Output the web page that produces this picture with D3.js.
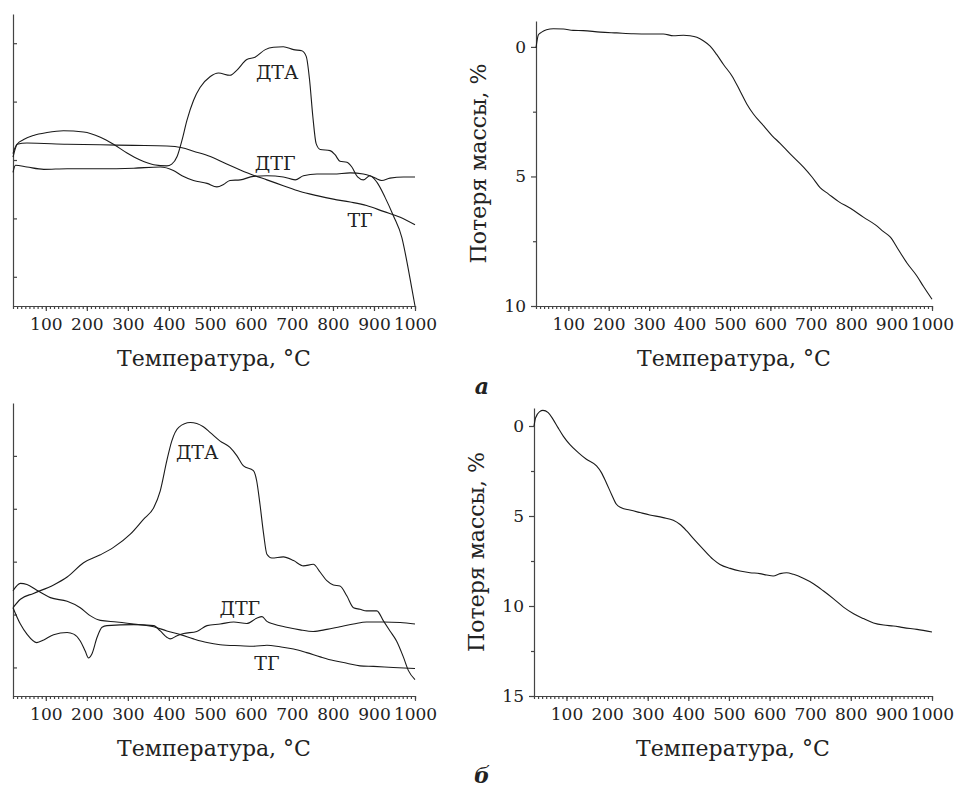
<!DOCTYPE html>
<html>
<head>
<meta charset="utf-8">
<script src="https://cdn.jsdelivr.net/npm/d3@7/dist/d3.min.js"></script>
<style>
body { margin: 0; background: #fff; }
text { font-family: "DejaVu Serif", serif; fill: #222; }
.crv { fill: none; stroke: #1a1a1a; stroke-width: 1.1; }
.axis path, .axis line { stroke: #444; stroke-width: 1.2; }
</style>
</head>
<body>
<svg id="fig" width="954" height="787"></svg>
<script>
// temperature ticks, deg C
var temp_major = [100, 200, 300, 400, 500, 600, 700, 800, 900, 1000]
var temp_minor = d3.range(20, 1001, 10)
var tg_ticks_a = [0, 5, 10]
var tg_ticks_b = [0, 5, 10, 15]

// (a) ДТА / ДТГ / ТГ, arbitrary units, [T, value]
var dta_a = [[20,2.05],[30,2.27],[46,2.35],[70,2.42],[103,2.47],[143,2.50],[192,2.48],[233,2.39],[265,2.27],[298,2.12],
  [330,2.00],[363,1.92],[395,1.90],[407,1.93],[420,2.06],[432,2.34],[444,2.68],[460,3.02],[476,3.24],[501,3.43],
  [521,3.49],[549,3.45],[566,3.54],[590,3.72],[610,3.76],[635,3.89],[655,3.93],[679,3.94],[704,3.89],[724,3.87],
  [735,3.77],[743,3.37],[751,2.74],[759,2.28],[769,2.18],[793,2.16],[805,2.09],[817,1.98],[834,1.96],[846,1.88],
  [860,1.71],[874,1.66],[890,1.73],[907,1.62],[927,1.36],[947,1.05],[968,0.67],[980,0.27],[992,-0.19],[1000,-0.5]]
var dtg_a = [[20,1.79],[26,1.91],[54,1.88],[95,1.84],[152,1.85],[233,1.85],[314,1.86],[379,1.88],[411,1.82],[432,1.73],
  [460,1.65],[493,1.60],[517,1.54],[533,1.58],[549,1.65],[574,1.66],[606,1.72],[639,1.73],[679,1.71],[708,1.66],
  [728,1.73],[761,1.76],[801,1.76],[842,1.78],[874,1.76],[890,1.73],[903,1.69],[919,1.65],[939,1.69],[972,1.71],[1000,1.71]]
var tg_a = [[20,2.11],[30,2.27],[54,2.29],[152,2.27],[233,2.26],[314,2.25],[395,2.24],[432,2.21],[460,2.15],[501,2.06],
  [541,1.93],[574,1.83],[606,1.74],[639,1.66],[679,1.56],[720,1.46],[761,1.39],[801,1.33],[842,1.28],[882,1.22],
  [923,1.12],[964,1.02],[1000,0.89]]
// (a) mass loss, %
var loss_a = [[20,0.04],[26,-0.47],[34,-0.57],[46,-0.66],[63,-0.70],[88,-0.69],[112,-0.64],[137,-0.63],[179,-0.57],[220,-0.54],
  [261,-0.51],[302,-0.50],[335,-0.50],[360,-0.43],[385,-0.45],[401,-0.43],[418,-0.37],[434,-0.24],[451,-0.03],[467,0.29],
  [484,0.68],[505,1.12],[525,1.70],[542,2.21],[558,2.59],[583,3.04],[604,3.42],[624,3.72],[649,4.13],[682,4.64],
  [703,5.02],[723,5.43],[744,5.68],[769,5.97],[798,6.23],[831,6.58],[860,6.87],[880,7.13],[897,7.34],[917,7.83],
  [938,8.34],[963,8.85],[979,9.25],[1000,9.74]]

// (б)
var dta_b = [[20,1.13],[38,1.29],[70,1.40],[119,1.56],[152,1.71],[192,1.98],[233,2.13],[265,2.27],[306,2.52],[338,2.80],
  [363,3.02],[379,3.34],[395,3.91],[407,4.28],[424,4.54],[452,4.63],[484,4.55],[501,4.44],[525,4.28],[549,4.16],
  [566,4.00],[582,3.81],[606,3.72],[614,3.53],[622,3.09],[631,2.52],[639,2.14],[651,2.07],[679,2.09],[704,2.02],
  [728,1.92],[752,1.95],[769,1.80],[785,1.64],[801,1.56],[817,1.54],[834,1.35],[850,1.13],[866,1.10],[882,1.07],
  [907,1.07],[923,0.88],[939,0.69],[955,0.50],[972,0.19],[984,-0.06],[1000,-0.23]]
var dtg_b = [[20,1.13],[38,0.82],[54,0.63],[78,0.47],[95,0.52],[119,0.62],[152,0.66],[168,0.63],[184,0.50],[196,0.31],
  [204,0.18],[212,0.25],[225,0.57],[237,0.76],[249,0.79],[314,0.81],[363,0.79],[379,0.69],[395,0.57],[403,0.54],
  [420,0.60],[436,0.64],[468,0.68],[493,0.79],[525,0.82],[558,0.86],[590,0.83],[614,0.93],[627,0.96],[639,0.87],
  [655,0.82],[687,0.76],[720,0.71],[752,0.68],[785,0.72],[817,0.77],[850,0.82],[882,0.86],[923,0.86],[964,0.85],[1000,0.82]]
var tg_b = [[20,1.45],[38,1.59],[54,1.57],[78,1.46],[111,1.32],[152,1.25],[184,1.13],[208,0.98],[233,0.89],[273,0.86],
  [314,0.82],[363,0.77],[395,0.69],[428,0.62],[460,0.54],[493,0.47],[525,0.43],[574,0.41],[606,0.40],[639,0.42],
  [671,0.39],[704,0.35],[736,0.28],[769,0.20],[801,0.13],[834,0.08],[866,0.03],[899,0.02],[947,0.00],[1000,-0.02]]
var loss_b = [[20,0],[24,-0.46],[34,-0.80],[42,-0.87],[55,-0.74],[67,-0.37],[79,0.09],[92,0.56],[108,1.02],[129,1.48],
  [149,1.85],[174,2.22],[186,2.59],[198,3.15],[211,3.80],[223,4.35],[235,4.54],[256,4.67],[281,4.81],[305,4.94],
  [338,5.09],[363,5.24],[379,5.46],[396,5.83],[412,6.24],[437,6.85],[461,7.41],[478,7.69],[503,7.91],[527,8.06],
  [552,8.15],[576,8.20],[593,8.28],[609,8.33],[626,8.20],[642,8.15],[659,8.24],[683,8.46],[708,8.76],[733,9.17],
  [757,9.59],[782,10.06],[807,10.43],[831,10.70],[856,10.94],[881,11.06],[905,11.11],[930,11.20],[963,11.30],[1000,11.44]]

// curve names and where they sit, [T, value]
var names = ["ДТА", "ДТГ", "ТГ"]
var names_pos_a = [[664,3.51],[659,1.95],[866,0.97]]
var names_pos_b = [[469,4.07],[573,1.12],[639,0.08]]

var tick_fs = "17px", title_fs = "22px"
var svg = d3.select("#fig")

function x_axis(g, x, y0) {
  g.append("g").attr("class","axis")
    .attr("transform","translate(0,"+y0+")")
    .call(d3.axisBottom(x).tickValues(temp_minor).tickSize(3).tickSizeOuter(0).tickFormat(""))
  var maj = g.append("g").attr("class","axis")
    .attr("transform","translate(0,"+y0+")")
    .call(d3.axisBottom(x).tickValues(temp_major).tickSize(5).tickSizeOuter(0).tickPadding(7).tickFormat(d3.format("d")))
  maj.selectAll("text").style("font-size",tick_fs).attr("fill","#222")
  maj.select(".domain").remove()
  g.append("text")
    .attr("x", (x.range()[0]+x.range()[1])/2)
    .attr("y", y0+60)
    .attr("text-anchor","middle")
    .style("font-size",title_fs)
    .text("Температура, °C")
}

function line_of(x, y) {
  return d3.line().x(d => x(d[0])).y(d => y(d[1])).curve(d3.curveMonotoneX)
}

// DTA panel: three curves, unlabeled y axis with inward ticks
function dta_panel(box, ydom, curves, lbl_pos) {
  var x = d3.scaleLinear().domain([20,1000]).range([box.x0, box.x1])
  var y = d3.scaleLinear().domain(ydom).range([box.y1, box.y0])
  var g = svg.append("g")
  g.append("g").attr("class","axis")
    .attr("transform","translate("+box.x0+",0)")
    .call(d3.axisLeft(y).tickValues([0,1,2,3,4]).tickSizeInner(-4).tickSizeOuter(0).tickFormat(""))
  x_axis(g, x, box.y1)
  var ln = line_of(x, y)
  g.selectAll("path.crv").data(curves).join("path")
    .attr("class","crv").attr("d", ln)
  g.selectAll("text.lbl").data(lbl_pos).join("text")
    .attr("class","lbl")
    .attr("x", d => x(d[0])).attr("y", d => y(d[1]))
    .attr("dy","0.36em").attr("text-anchor","middle")
    .style("font-size","19px")
    .text((d, i) => names[i])
}

// mass loss panel, y axis reversed
function tg_panel(box, ydom, ticks, data) {
  var x = d3.scaleLinear().domain([20,1000]).range([box.x0, box.x1])
  var y = d3.scaleLinear().domain(ydom).range([box.y0, box.y1])
  var g = svg.append("g")
  g.append("g").attr("class","axis")
    .attr("transform","translate("+box.x0+",0)")
    .call(d3.axisLeft(y).tickValues(d3.range(0, ydom[1]+0.1, 2.5).filter(v => ticks.indexOf(v) < 0))
      .tickSize(3).tickSizeOuter(0).tickFormat(""))
  var ya = g.append("g").attr("class","axis")
    .attr("transform","translate("+box.x0+",0)")
    .call(d3.axisLeft(y).tickValues(ticks).tickSize(5).tickSizeOuter(0).tickPadding(5))
  ya.selectAll("text").style("font-size",tick_fs).attr("fill","#222")
  ya.select(".domain").remove()
  x_axis(g, x, box.y1)
  g.append("path").attr("class","crv").attr("d", line_of(x, y)(data))
  g.append("text")
    .attr("transform","translate("+(box.x0-58)+","+((box.y0+box.y1)/2)+") rotate(-90)")
    .attr("dy","0.36em").attr("text-anchor","middle")
    .style("font-size",title_fs)
    .text("Потеря массы, %")
}

dta_panel({x0:13, x1:415, y0:14, y1:306}, [-0.5, 4.5], [dta_a, dtg_a, tg_a], names_pos_a)
tg_panel({x0:536, x1:932, y0:21, y1:306}, [-1, 10], tg_ticks_a, loss_a)
dta_panel({x0:13, x1:415, y0:403, y1:696}, [-0.54, 5.0], [dta_b, dtg_b, tg_b], names_pos_b)
tg_panel({x0:534, x1:932, y0:408, y1:696}, [-1, 15], tg_ticks_b, loss_b)

svg.append("text").attr("x",482).attr("y",394).attr("text-anchor","middle")
  .style("font-size","22px").style("font-weight","bold").style("font-style","italic").text("а")
svg.append("text").attr("x",482).attr("y",783).attr("text-anchor","middle")
  .style("font-size","22px").style("font-weight","bold").style("font-style","italic").text("б")
</script>
</body>
</html>
